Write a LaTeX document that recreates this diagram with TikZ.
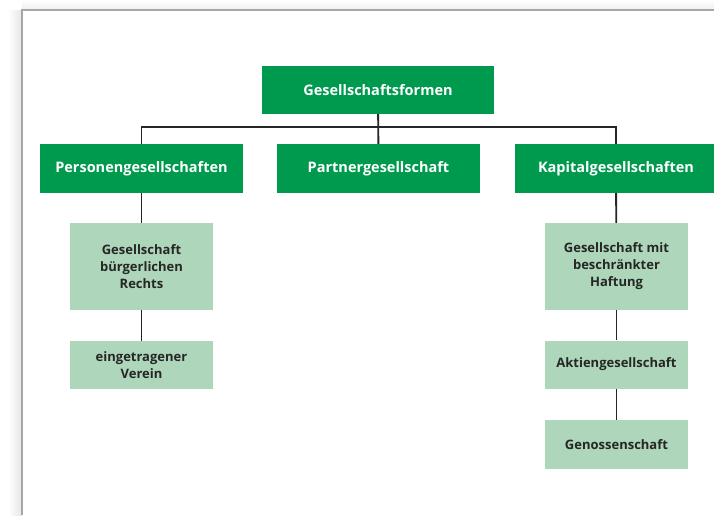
\documentclass[tikz,border=0pt]{standalone}
\usepackage{fontspec}
\setmainfont{Open Sans}
\usepackage{xcolor}
\usepackage{tikz}
\usetikzlibrary{positioning,calc,backgrounds}

\definecolor{darkgreen}{HTML}{009A4E}
\definecolor{lightgreen}{HTML}{ADD6BA}
\definecolor{textgray}{HTML}{262626}

\begin{document}
\begin{tikzpicture}[
  x=1pt,y=-1pt,
  font=\bfseries,
  head/.style={fill=darkgreen,text=white,align=center,minimum width=203pt,minimum height=49pt,inner sep=0pt,
    font=\fontsize{14.5}{17}\selectfont\bfseries},
  sub/.style={fill=lightgreen,text=textgray,align=center,minimum width=143pt,inner sep=0pt,
    font=\fontsize{13}{17}\selectfont\bfseries},
  conn/.style={draw=textgray,line width=1.9pt}
]
\useasboundingbox (0,0) rectangle (714,515);
% frame and shadow
\shade[left color=white,right color=black!10] (8,10) rectangle (22,515);
\shade[top color=white,bottom color=black!7] (22,0) rectangle (714,10);
\draw[black!35,line width=1.2pt] (22,515) -- (22,10) -- (714,10);

% boxes
\node[head,minimum width=232pt,minimum height=48pt] (root) at (378,90) {Gesellschaftsformen};
\node[head] (pers) at (141.5,168.5) {Personengesellschaften};
\node[head] (partner) at (378.5,168.5) {Partnergesellschaft};
\node[head,minimum width=202pt] (kap) at (616,168.5) {Kapitalgesellschaften};

\node[sub,minimum height=87pt] (gbr) at (141.5,266.5) {Gesellschaft\\bürgerlichen\\Rechts};
\node[sub,minimum height=48pt] (ev) at (141.5,365) {eingetragener\\Verein};
\node[sub,minimum height=87pt] (gmbh) at (616.5,266.5) {Gesellschaft mit\\beschränkter\\Haftung};
\node[sub,minimum height=48pt] (ag) at (616.5,364.5) {Aktiengesellschaft};
\node[sub,minimum height=49pt] (eg) at (616.5,444.5) {Genossenschaft};

% connectors
\coordinate (bus) at (378,127);
\begin{scope}[on background layer]
\draw[conn] (root) -- (partner);
\draw[conn] (pers.north) |- (bus) -| (kap.north);
\draw[conn] (pers) -- (gbr);
\draw[conn] (gbr) -- (ev);
\draw[conn] (kap) -- (gmbh);
\draw[conn] (gmbh) -- (ag);
\draw[conn] (ag) -- (eg);
\end{scope}
\end{tikzpicture}
\end{document}
